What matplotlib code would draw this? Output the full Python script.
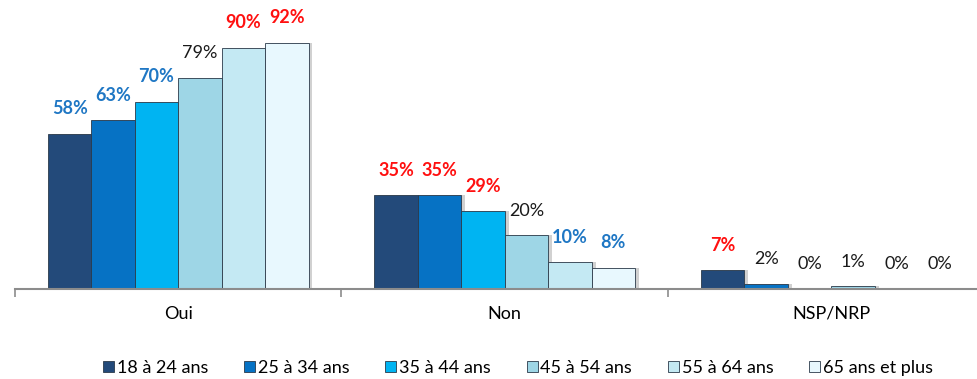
import matplotlib.pyplot as plt
import numpy as np

categories = ["Oui", "Non", "NSP/NRP"]
age_groups = ["18 à 24 ans", "25 à 34 ans", "35 à 44 ans",
              "45 à 54 ans", "55 à 64 ans", "65 ans et plus"]
values = [
    [58, 35, 7],   # 18-24
    [63, 35, 2],   # 25-34
    [70, 29, 0],   # 35-44
    [79, 20, 1],   # 45-54
    [90, 10, 0],   # 55-64
    [92, 8, 0],    # 65+
]
bar_colors = ["#234A7A", "#0672C4", "#00B4F2", "#9ED6E6", "#C4E9F3", "#E8F8FE"]

# label style per group / category: 'b' = blue bold, 'r' = red bold, 'k' = black
label_styles = [
    ["b", "r", "r"],
    ["b", "r", "k"],
    ["b", "r", "k"],
    ["k", "k", "k"],
    ["r", "b", "k"],
    ["r", "b", "k"],
]
style_map = {
    "b": ("#1F77C4", "bold"),
    "r": ("#FF1010", "bold"),
    "k": ("#1A1A1A", "normal"),
}

plt.rcParams['font.family'] = ['Lato', 'DejaVu Sans']

fig = plt.figure(figsize=(9.78, 3.79), dpi=100)
ax = fig.add_axes([15 / 978, 1 - 289 / 379, 963 / 978, 289 / 379])

x = np.arange(len(categories))
width = 0.133
n = len(age_groups)

for i, (grp, vals, col) in enumerate(zip(age_groups, values, bar_colors)):
    pos = x + (i - (n - 1) / 2) * width
    # soft shadow on right side
    ax.bar(pos + 0.012, vals, width, color="#000000", alpha=0.18, zorder=1)
    ax.bar(pos, vals, width, color=col, edgecolor="#2B3A4A", linewidth=0.6,
           label=grp, zorder=2)
    for j, (p, v) in enumerate(zip(pos, vals)):
        c, w = style_map[label_styles[i][j]]
        ax.annotate(f"{v}%", (p, v), xytext=(0, 12), textcoords="offset points",
                    ha="center", va="bottom", fontsize=13, color=c,
                    fontweight=w, zorder=3)

ax.set_xlim(-0.5, -0.5 + 963 / 326.5)
ax.set_ylim(0, 108)

for s in ["top", "right", "left"]:
    ax.spines[s].set_visible(False)
ax.spines["bottom"].set_color("#8C8C8C")
ax.spines["bottom"].set_linewidth(1.5)
ax.set_yticks([])
ax.set_xticks(x)
ax.set_xticklabels(categories, fontsize=13)
ax.tick_params(axis="x", which="major", length=0, pad=12)
ax.set_xticks([-0.5, 0.5, 1.5], minor=True)
ax.tick_params(axis="x", which="minor", length=6, color="#8C8C8C", width=1.2)

handles, labels = ax.get_legend_handles_labels()
leg = fig.legend(handles, labels, loc="center", bbox_to_anchor=(518 / 978, 1 - 368 / 379),
                 ncol=6, frameon=False, fontsize=13, handlelength=0.6,
                 handleheight=0.6, handletextpad=0.15, columnspacing=2.0)

fig.savefig("out.png", dpi=100)
